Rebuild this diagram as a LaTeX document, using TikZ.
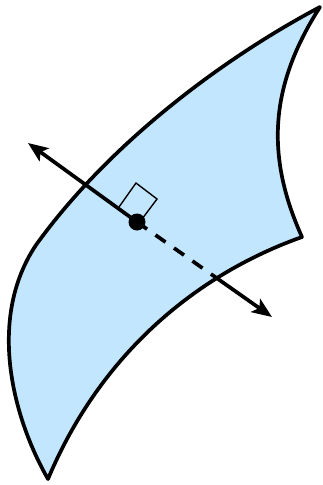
\documentclass[tikz,border=0pt]{standalone}
\usetikzlibrary{arrows.meta}
\definecolor{surf}{RGB}{195,230,255}
\tikzset{
  edge/.style={line width=3.7pt,line join=round,line cap=round},
  normal/.style={line width=3.7pt,-{Stealth[length=20pt,width=16pt,inset=4.5pt]}},
  dashpart/.style={line width=3.7pt,dash pattern=on 12.3pt off 10.3pt},
  marker/.style={line width=1.4pt,line join=miter},
  dotnode/.style={circle,fill=black,inner sep=0pt,minimum size=17pt}
}
\begin{document}
\begin{tikzpicture}[x=1pt,y=-1pt]
\useasboundingbox (0,0) rectangle (322,485);
\coordinate (tr) at (320,7);
\coordinate (br) at (302,237);
\coordinate (bl) at (48,479);
\coordinate (tl) at (36,245);
\coordinate (up) at (28,143);
\coordinate (down) at (272,317);
\coordinate (exit) at (218,279);
\coordinate (s1) at (119,207);
\coordinate (s2) at (136,183);
\coordinate (s3) at (157,199);
\coordinate (s4) at (142,219);
\filldraw[edge,fill=surf] (tl) .. controls (108,145) and (220,60) .. (tr)
  .. controls (270,85) and (265,155) .. (br)
  .. controls (195,275) and (100,355) .. (bl)
  .. controls (14,420) and (-14,320) .. (tl) -- cycle;
\draw[marker] (s1) -- (s2) -- (s3) -- (s4);
\node[dotnode] (dot) at (137,222) {};
\draw[normal] (dot.center) -- (up);
\draw[dashpart] (dot.center) -- (exit);
\draw[normal] (exit) -- (down);
\end{tikzpicture}
\end{document}
